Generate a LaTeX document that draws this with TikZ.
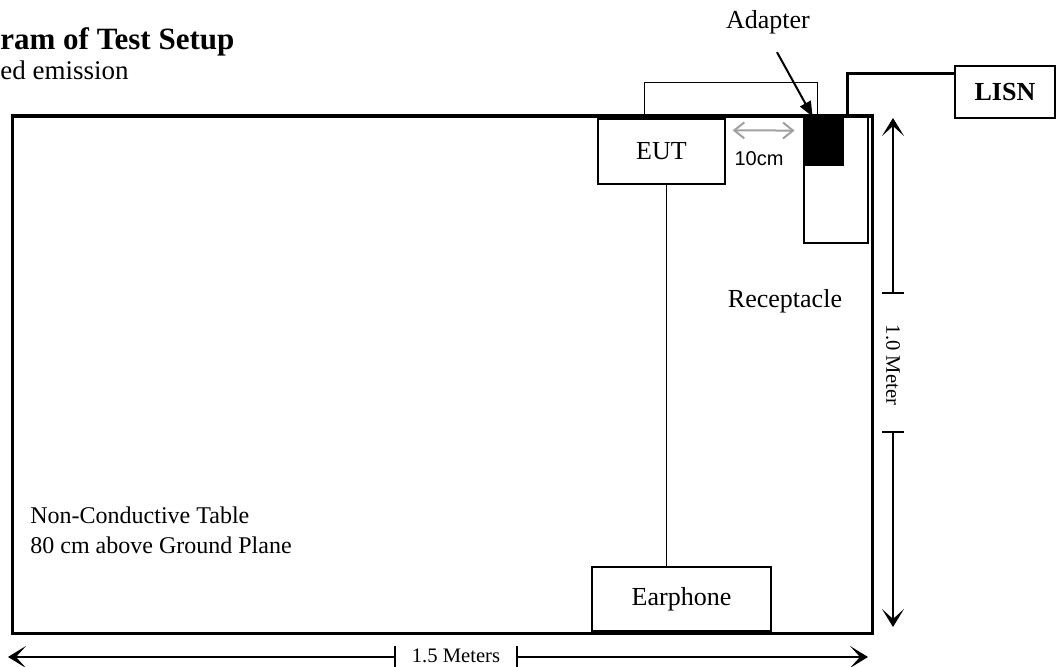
\documentclass[tikz,border=0pt]{standalone}
\usepackage{fontspec}
\setmainfont{Liberation Serif}
\newfontfamily\arialfont{Liberation Sans}
\usetikzlibrary{arrows.meta,positioning}
\definecolor{gapgray}{RGB}{160,160,160}
\def\tickw{11}
\def\dimy{657}
\def\dimx{893}

\begin{document}
\begin{tikzpicture}[x=0.5pt,y=-0.5pt,line cap=butt,
  box/.style={draw,line width=0.7pt,inner sep=0pt,font=\fontsize{13}{15}\selectfont},
  lbl/.style={inner sep=0pt,font=\fontsize{13}{15}\selectfont},
  dimlbl/.style={inner sep=0pt,font=\fontsize{10.3}{12}\selectfont},
  dimline/.style={line width=0.6pt,-{Stealth[length=9pt,width=11pt,inset=5pt]}},
  cable/.style={line width=0.6pt},
  mains/.style={line width=1.5pt}]
  \useasboundingbox (0,0) rectangle (1057,667);
  % heading
  \node[lbl,anchor=base west,font=\bfseries\fontsize{15.5}{18}\selectfont] (title) at (0,50) {ram of Test Setup};
  \node[lbl,anchor=base west,font=\fontsize{13.5}{16}\selectfont] (subtitle) at (0,80) {ed emission};
  % table and equipment
  \node[draw,line width=1.5pt,inner sep=0pt,minimum width=430pt,minimum height=258.5pt] (table) at (442,375.5) {};
  \node[box,minimum width=63.5pt,minimum height=32.5pt] (eut) at (661.5,151.5) {EUT};
  \node[box,minimum width=89.5pt,minimum height=32pt] (earphone) at (681.5,599) {Earphone};
  \node[box,minimum width=32pt,minimum height=63pt] (recbox) at (836,180) {};
  \node[fill=black,inner sep=0pt,minimum width=20pt,minimum height=24.5pt] (adapter) at (824,141.5) {};
  \node[box,minimum width=50pt,minimum height=26pt,font=\bfseries\fontsize{13}{15}\selectfont] (lisn) at (1005,92) {LISN};
  \draw[line width=1.5pt] (table.north west) -- (table.north east);
  % cables
  \draw[cable] (eut.south) ++(2.5pt,0) coordinate (eutdn) -- (eutdn |- earphone.north);
  \draw[cable] ([xshift=23.5pt]eut.north west) -- ++(0,-36) -| ([xshift=7pt]adapter.north west);
  \draw[mains] ([xshift=1.5pt]adapter.north east) |- ([yshift=9pt]lisn.west);
  % labels
  \node[lbl] (adlbl) at (768,22) {Adapter};
  \draw[line width=1pt,-{Triangle[length=7.5pt,width=6pt]}] ([shift={(4.5pt,-9pt)}]adlbl.south) -- ([xshift=4.5pt]adapter.north west);
  \draw[gapgray,line width=1pt,{Straight Barb[length=5pt,width=8pt]}-{Straight Barb[length=5pt,width=8pt]}]
    ([shift={(3.5pt,-6pt)}]eut.north east) -- ([shift={(-4.5pt,-7pt)}]adapter.north west);
  \node[inner sep=0pt,font=\arialfont\fontsize{10}{12}\selectfont] (gaplbl) at (759,159) {10cm};
  \node[lbl,anchor=base] (reclbl) at (785,308) {Receptacle};
  \node[lbl,anchor=base west,align=left,font=\fontsize{12}{15}\selectfont] (tablelbl) at (30,554) {Non-Conductive Table\\80 cm above Ground Plane};
  % 1.0 m dimension
  \node[dimlbl,rotate=-90] (vlbl) at (\dimx,365) {1.0 Meter};
  \coordinate (vtickA) at (\dimx,293);
  \coordinate (vtickB) at (\dimx,432);
  \draw[dimline] (vtickA) -- (\dimx,118);
  \draw[dimline] (vtickB) -- (\dimx,627);
  \foreach \t in {vtickA,vtickB} { \draw[line width=0.6pt] ([xshift=-\tickw*0.5pt]\t) -- ([xshift=\tickw*0.5pt]\t); }
  % 1.5 m dimension
  \node[dimlbl] (hlbl) at (456,656) {1.5 Meters};
  \coordinate (htickA) at (395,\dimy);
  \coordinate (htickB) at (517,\dimy);
  \draw[dimline] (htickA) -- (8,\dimy);
  \draw[dimline] (htickB) -- (868,\dimy);
  \foreach \t in {htickA,htickB} { \draw[line width=0.6pt] ([yshift=-\tickw*0.5pt]\t) -- ([yshift=\tickw*0.5pt]\t); }
\end{tikzpicture}
\end{document}
